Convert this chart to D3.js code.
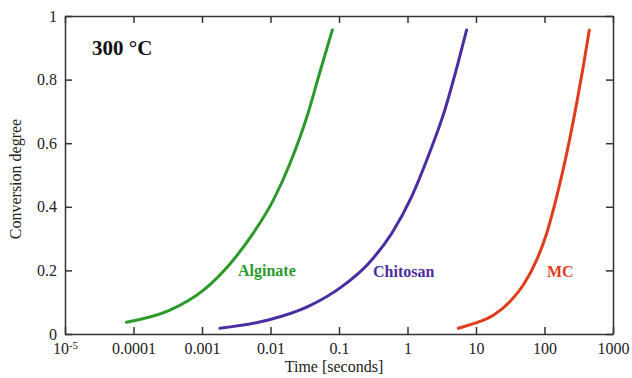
<!DOCTYPE html>
<html>
<head>
<meta charset="utf-8">
<script src="https://cdn.jsdelivr.net/npm/d3@7"></script>
<style>
  body { margin: 0; background: #fff; }
  svg, svg text { font-family: "Liberation Serif", "Times New Roman", serif; }
</style>
</head>
<body>
<div id="chart"></div>
<script>
// Values (time in seconds, conversion degree 0..1)
const alginateTime = [7.9e-5, 3.4e-4, 1.05e-3, 2.6e-3, 5.6e-3, 0.011, 0.0193, 0.034, 0.052, 0.08];
const alginateConv = [0.037, 0.075, 0.138, 0.222, 0.317, 0.421, 0.537, 0.683, 0.82, 0.956];

const chitosanTime = [1.83e-3, 9.3e-3, 0.035, 0.11, 0.27, 0.59, 1.15, 2.0, 3.5, 5.28, 7.3];
const chitosanConv = [0.018, 0.044, 0.086, 0.149, 0.222, 0.317, 0.432, 0.558, 0.704, 0.84, 0.956];

const mcTime = [5.52, 9.66, 17.9, 31.4, 49, 76.9, 107.7, 150.7, 211, 295, 368, 451];
const mcConv = [0.018, 0.034, 0.059, 0.102, 0.154, 0.233, 0.317, 0.432, 0.568, 0.726, 0.841, 0.956];

const xTicks = [1e-5, 1e-4, 1e-3, 1e-2, 1e-1, 1, 10, 100, 1000];
const xTickLabels = ["", "0.0001", "0.001", "0.01", "0.1", "1", "10", "100", "1000"];
const yTicks = [0, 0.2, 0.4, 0.6, 0.8, 1];
const yTickLabels = ["0", "0.2", "0.4", "0.6", "0.8", "1"];

const seriesNames = ["Alginate", "Chitosan", "MC"];
const seriesColors = ["#2b9a2b", "#4a2da0", "#df3e1d"];

const width = 632, height = 378;
const margin = { top: 16, right: 19, bottom: 44, left: 65 };
const serif = "'Liberation Serif', 'Times New Roman', serif";

const svg = d3.select("#chart").append("svg")
  .attr("width", width)
  .attr("height", height);

const x = d3.scaleLog()
  .domain([1e-5, 1000])
  .range([margin.left, width - margin.right]);

const y = d3.scaleLinear()
  .domain([0, 1])
  .range([height - margin.bottom, margin.top]);

const axisColor = "#333";

// bottom axis, ticks pointing inward
const xAxis = svg.append("g")
  .attr("transform", `translate(0,${height - margin.bottom})`)
  .call(d3.axisBottom(x)
    .tickValues(xTicks)
    .tickFormat((d, i) => xTickLabels[i])
    .tickSizeInner(-7)
    .tickSizeOuter(0)
    .tickPadding(9));

// superscript label for 10^-5
xAxis.selectAll(".tick text")
  .filter(d => d === 1e-5)
  .each(function () {
    const t = d3.select(this);
    t.append("tspan").text("10");
    t.append("tspan").attr("dy", "-0.45em").style("font-size", "11px").text("-5");
  });

// top axis, no labels
svg.append("g")
  .attr("transform", `translate(0,${margin.top})`)
  .call(d3.axisTop(x).tickValues(xTicks).tickFormat("").tickSizeInner(-7).tickSizeOuter(0));

// left axis
svg.append("g")
  .attr("transform", `translate(${margin.left},0)`)
  .call(d3.axisLeft(y)
    .tickValues(yTicks)
    .tickFormat((d, i) => yTickLabels[i])
    .tickSizeInner(-7)
    .tickSizeOuter(0)
    .tickPadding(8));

// right axis, no labels
svg.append("g")
  .attr("transform", `translate(${width - margin.right},0)`)
  .call(d3.axisRight(y).tickValues(yTicks).tickFormat("").tickSizeInner(-7).tickSizeOuter(0));

// d3 axes set a sans-serif font on the group, drop it
svg.selectAll("g").attr("font-family", null).attr("font-size", null);

svg.selectAll(".domain, .tick line")
  .attr("stroke", axisColor)
  .attr("stroke-width", 1.5);

svg.selectAll(".tick text")
  .attr("fill", "#222")
  .style("font-family", serif)
  .style("font-size", "16px");

// axis titles
svg.append("text")
  .attr("x", 334)
  .attr("y", 372)
  .attr("text-anchor", "middle")
  .style("font-size", "16px")
  .attr("fill", "#222")
  .text("Time [seconds]");

svg.append("text")
  .attr("transform", `translate(21,${(margin.top + height - margin.bottom) / 2 + 4}) rotate(-90)`)
  .attr("text-anchor", "middle")
  .style("font-size", "16px")
  .attr("fill", "#222")
  .text("Conversion degree");

svg.append("text")
  .attr("x", 92)
  .attr("y", 55)
  .style("font-size", "21px")
  .attr("font-weight", "bold")
  .attr("fill", "#111")
  .text("300 °C");

// curves
const line = d3.line()
  .x(d => x(d[0]))
  .y(d => y(d[1]))
  .curve(d3.curveMonotoneX);

const series = [
  d3.zip(alginateTime, alginateConv),
  d3.zip(chitosanTime, chitosanConv),
  d3.zip(mcTime, mcConv)
];

svg.selectAll("path.curve")
  .data(series)
  .enter()
  .append("path")
  .attr("class", "curve")
  .attr("d", line)
  .attr("fill", "none")
  .attr("stroke", (d, i) => seriesColors[i])
  .attr("stroke-width", 3)
  .attr("stroke-linecap", "round");

// curve labels
const labelPos = [[238, 276], [373, 277], [547, 277]];
svg.selectAll("text.series-label")
  .data(seriesNames)
  .enter()
  .append("text")
  .attr("class", "series-label")
  .attr("x", (d, i) => labelPos[i][0])
  .attr("y", (d, i) => labelPos[i][1])
  .style("font-size", "16px")
  .attr("font-weight", "bold")
  .attr("fill", (d, i) => seriesColors[i])
  .text(d => d);
</script>
</body>
</html>
